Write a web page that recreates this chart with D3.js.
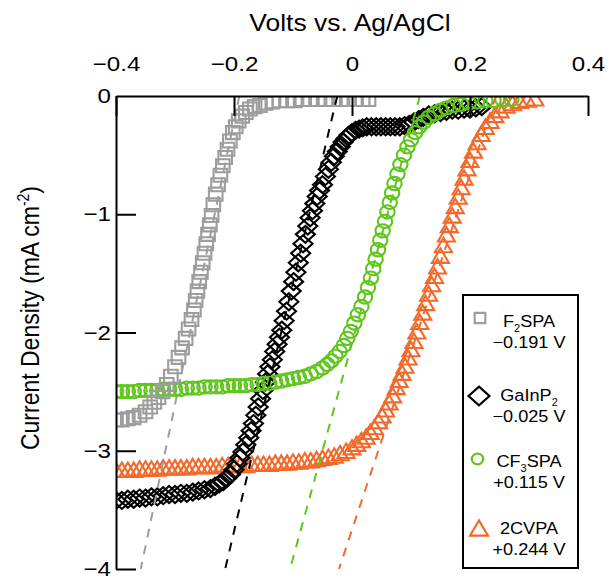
<!DOCTYPE html>
<html>
<head>
<meta charset="utf-8">
<script src="https://cdn.jsdelivr.net/npm/d3@7"></script>
<style>
  html, body { margin: 0; padding: 0; background: #fff; }
  svg { display: block; font-family: "Liberation Sans", Arial, Helvetica, sans-serif; }
</style>
</head>
<body>
<svg id="chart" width="616" height="582"></svg>
<script>
// ---- Current density (mA cm^-2) vs. potential (V vs. Ag/AgCl) ----

// F2SPA-modified electrode
const f2spaV = [-0.400,-0.390,-0.380,-0.370,-0.360,-0.350,-0.342,-0.335,-0.328,-0.321,-0.314,-0.307,-0.300,-0.294,-0.288,-0.282,
  -0.277,-0.272,-0.268,-0.265,-0.262,-0.259,-0.256,-0.253,-0.250,-0.247,-0.244,-0.241,-0.238,-0.235,-0.231,-0.227,-0.223,-0.219,
  -0.215,-0.211,-0.207,-0.202,-0.197,-0.192,-0.186,-0.180,-0.173,-0.165,-0.156,-0.146,-0.135,-0.123,-0.110,-0.097,-0.084,-0.071,
  -0.058,-0.045,-0.032,-0.019,-0.006,0.007,0.018,0.028];
const f2spaJ = [-2.74,-2.74,-2.73,-2.72,-2.70,-2.67,-2.63,-2.59,-2.55,-2.50,-2.44,-2.37,-2.29,-2.21,-2.13,-2.05,
  -1.97,-1.89,-1.81,-1.73,-1.65,-1.57,-1.49,-1.41,-1.33,-1.25,-1.17,-1.09,-1.01,-0.92,-0.83,-0.75,-0.67,-0.59,
  -0.52,-0.45,-0.38,-0.31,-0.26,-0.21,-0.17,-0.14,-0.11,-0.09,-0.08,-0.06,-0.05,-0.04,-0.04,-0.04,-0.03,-0.03,
  -0.03,-0.03,-0.03,-0.03,-0.03,-0.03,-0.03,-0.03];

// bare GaInP2
const gainpV = [-0.400,-0.390,-0.380,-0.370,-0.360,-0.350,-0.340,-0.330,-0.320,-0.310,-0.300,-0.290,-0.280,-0.270,-0.260,-0.250,
  -0.240,-0.232,-0.225,-0.218,-0.212,-0.206,-0.200,-0.195,-0.190,-0.185,-0.180,-0.175,-0.171,-0.167,-0.163,-0.159,-0.155,-0.151,
  -0.147,-0.143,-0.139,-0.135,-0.131,-0.127,-0.123,-0.119,-0.115,-0.111,-0.107,-0.103,-0.099,-0.095,-0.091,-0.087,-0.083,-0.079,
  -0.075,-0.071,-0.067,-0.063,-0.059,-0.055,-0.050,-0.045,-0.040,-0.035,-0.030,-0.025,-0.020,-0.015,-0.010,-0.005,0.000,0.006,
  0.012,0.018,0.025,0.033,0.041,0.049,0.057,0.065,0.073,0.081,0.089,0.097,0.105,0.113,0.121,0.130,0.140,0.150,0.160,0.170,
  0.180,0.190,0.200,0.210,0.220];
const gainpJ = [-3.42,-3.42,-3.41,-3.41,-3.40,-3.40,-3.39,-3.39,-3.38,-3.37,-3.37,-3.36,-3.36,-3.35,-3.34,-3.33,
  -3.32,-3.30,-3.28,-3.26,-3.23,-3.20,-3.16,-3.11,-3.06,-3.01,-2.95,-2.89,-2.83,-2.77,-2.70,-2.63,-2.56,-2.49,
  -2.42,-2.35,-2.29,-2.23,-2.16,-2.10,-2.04,-1.98,-1.90,-1.82,-1.74,-1.65,-1.57,-1.49,-1.41,-1.33,-1.25,-1.17,
  -1.10,-1.03,-0.97,-0.91,-0.85,-0.80,-0.75,-0.68,-0.62,-0.56,-0.51,-0.47,-0.43,-0.39,-0.36,-0.33,-0.31,-0.29,
  -0.28,-0.27,-0.26,-0.26,-0.26,-0.26,-0.26,-0.26,-0.26,-0.26,-0.25,-0.24,-0.22,-0.20,-0.18,-0.16,-0.15,-0.14,-0.13,-0.12,
  -0.12,-0.11,-0.11,-0.10,-0.09];

// CF3SPA-modified electrode
const cf3spaV = [-0.400,-0.390,-0.380,-0.370,-0.360,-0.350,-0.340,-0.330,-0.320,-0.310,-0.300,-0.290,-0.280,-0.270,-0.260,-0.250,
  -0.240,-0.230,-0.220,-0.210,-0.200,-0.190,-0.180,-0.170,-0.160,-0.150,-0.140,-0.130,-0.120,-0.110,-0.100,-0.090,-0.080,-0.070,
  -0.060,-0.050,-0.042,-0.035,-0.028,-0.021,-0.014,-0.008,-0.002,0.004,0.010,0.016,0.022,0.027,0.032,0.036,0.040,0.044,
  0.048,0.052,0.056,0.060,0.064,0.068,0.072,0.077,0.082,0.088,0.094,0.100,0.107,0.114,0.122,0.130,0.140,0.150,0.160,0.172,
  0.185,0.198,0.212,0.226,0.240,0.255,0.270];
const cf3spaJ = [-2.50,-2.50,-2.50,-2.50,-2.49,-2.49,-2.49,-2.49,-2.48,-2.48,-2.48,-2.48,-2.47,-2.47,-2.47,-2.46,
  -2.46,-2.46,-2.46,-2.45,-2.45,-2.45,-2.45,-2.44,-2.44,-2.43,-2.43,-2.42,-2.41,-2.40,-2.39,-2.38,-2.37,-2.35,
  -2.33,-2.30,-2.27,-2.24,-2.20,-2.16,-2.11,-2.05,-1.99,-1.92,-1.85,-1.78,-1.70,-1.62,-1.54,-1.46,-1.38,-1.30,
  -1.22,-1.14,-1.06,-0.98,-0.90,-0.82,-0.74,-0.66,-0.58,-0.50,-0.43,-0.37,-0.31,-0.26,-0.22,-0.18,-0.15,-0.12,-0.10,-0.08,
  -0.07,-0.06,-0.05,-0.04,-0.04,-0.03,-0.03];

// 2CVPA-modified electrode
const cvpaV = [-0.400,-0.390,-0.380,-0.370,-0.360,-0.350,-0.340,-0.330,-0.320,-0.310,-0.300,-0.290,-0.280,-0.270,-0.260,-0.250,
  -0.240,-0.230,-0.220,-0.210,-0.200,-0.190,-0.180,-0.170,-0.160,-0.150,-0.140,-0.130,-0.120,-0.110,-0.100,-0.090,-0.080,-0.070,
  -0.060,-0.050,-0.040,-0.030,-0.020,-0.010,0.000,0.008,0.016,0.024,0.031,0.038,0.045,0.051,0.057,0.063,0.069,0.075,
  0.080,0.085,0.090,0.095,0.100,0.105,0.110,0.115,0.120,0.125,0.130,0.135,0.140,0.145,0.150,0.155,0.160,0.165,0.170,0.175,
  0.180,0.185,0.190,0.195,0.200,0.206,0.212,0.219,0.226,0.234,0.242,0.251,0.261,0.272,0.284,0.297,0.310];
const cvpaJ = [-3.16,-3.16,-3.16,-3.16,-3.15,-3.15,-3.15,-3.15,-3.14,-3.14,-3.14,-3.14,-3.14,-3.13,-3.13,-3.13,
  -3.13,-3.13,-3.12,-3.12,-3.12,-3.12,-3.12,-3.11,-3.11,-3.11,-3.11,-3.10,-3.10,-3.10,-3.09,-3.09,-3.08,-3.08,
  -3.07,-3.06,-3.05,-3.04,-3.02,-3.00,-2.97,-2.94,-2.91,-2.88,-2.84,-2.80,-2.75,-2.70,-2.65,-2.59,-2.53,-2.46,
  -2.40,-2.34,-2.28,-2.21,-2.14,-2.07,-1.99,-1.91,-1.83,-1.75,-1.67,-1.59,-1.52,-1.44,-1.35,-1.26,-1.17,-1.09,-1.01,-0.93,
  -0.85,-0.77,-0.69,-0.61,-0.54,-0.46,-0.39,-0.32,-0.26,-0.21,-0.16,-0.12,-0.08,-0.06,-0.04,-0.03,-0.02];

// legend names, onset potentials (V) and where each tangent reaches -4 mA cm^-2
const seriesNames = ["F2SPA", "GaInP2", "CF3SPA", "2CVPA"];
const onsetV = [-0.191, -0.025, 0.115, 0.244];
const tangentFootV = [-0.358, -0.215, -0.105, -0.022];

// axis ticks
const xTicks = [-0.4, -0.2, 0, 0.2, 0.4];
const xTickLabels = ["\u22120.4", "\u22120.2", "0", "0.2", "0.4"];
const yTicks = [0, -1, -2, -3, -4];
const yTickLabels = ["0", "\u22121", "\u22122", "\u22123", "\u22124"];

// ---- layout ----
const plot = { left: 116, right: 588, top: 96, bottom: 569 };
const TEXT_SX = 1.15;          // horizontal stretch applied to all lettering
const colors = ["#9d9d9d", "#000000", "#5fc51c", "#f26a2b"];
const shapes = ["square", "diamond", "circle", "triangle"];
const voltages = [f2spaV, gainpV, cf3spaV, cvpaV];
const currents = [f2spaJ, gainpJ, cf3spaJ, cvpaJ];

const svg = d3.select("#chart");
const x = d3.scaleLinear().domain([-0.4, 0.4]).range([plot.left, plot.right]);
const y = d3.scaleLinear().domain([0, -4]).range([plot.top, plot.bottom]);

const series = seriesNames.map((name, i) => ({
  name, color: colors[i], shape: shapes[i], onset: onsetV[i], foot: tangentFootV[i],
  points: voltages[i].map((v, k) => ({ v, j: currents[i][k] }))
}));

// marker outline generators (centred on 0,0)
function markerPath(shape, s) {
  const k = s || 1;
  switch (shape) {
    case "square":   { const a = 6.8 * k, b = 6.5 * k; return `M${-a},${-b}H${a}V${b}H${-a}Z`; }
    case "diamond":  { const a = 9.5 * k, b = 8.5 * k; return `M0,${-b}L${a},0L0,${b}L${-a},0Z`; }
    case "circle":   { const a = 7.2 * k, b = 6.6 * k;
                       return `M${-a},0A${a},${b} 0 1,0 ${a},0A${a},${b} 0 1,0 ${-a},0Z`; }
    case "triangle": { const a = 8.5 * k, b = 7.2 * k; return `M0,${-b}L${a},${b}L${-a},${b}Z`; }
  }
}

// clip region for data
svg.append("defs").append("clipPath").attr("id", "plotClip")
  .append("rect").attr("x", plot.left).attr("y", plot.top)
  .attr("width", plot.right - plot.left).attr("height", plot.bottom - plot.top);

const dataG = svg.append("g").attr("clip-path", "url(#plotClip)");

// draw order: 2CVPA, GaInP2, CF3SPA, F2SPA
[3, 1, 2, 0].forEach(i => {
  const s = series[i];
  dataG.append("g")
    .selectAll("path").data(s.points).join("path")
    .attr("d", markerPath(s.shape))
    .attr("transform", d => `translate(${x(d.v)},${y(d.j)})`)
    .attr("fill", "none")
    .attr("stroke", s.color)
    .attr("stroke-width", 2.1);
});

// onset tangents
const line = d3.line().x(d => x(d.v)).y(d => y(d.j));
series.forEach(s => {
  dataG.append("path")
    .attr("d", line([{ v: s.onset, j: 0 }, { v: s.foot, j: -4 }]))
    .attr("fill", "none")
    .attr("stroke", s.color)
    .attr("stroke-width", 2)
    .attr("stroke-dasharray", "9,8");
});

// ---- axes ----
const fontTick = 21;
const topAxis = d3.axisTop(x)
  .tickValues(xTicks)
  .tickFormat((d, i) => xTickLabels[i])
  .tickSize(-20).tickSizeOuter(0).tickPadding(25);
const gTop = svg.append("g").attr("transform", `translate(0,${plot.top})`).call(topAxis);

const leftAxis = d3.axisLeft(y)
  .tickValues(yTicks)
  .tickFormat((d, i) => yTickLabels[i])
  .tickSize(-20).tickSizeOuter(0).tickPadding(5);
const gLeft = svg.append("g").attr("transform", `translate(${plot.left},0)`).call(leftAxis);

[gTop, gLeft].forEach(g => {
  g.select(".domain").attr("stroke", "#000").attr("stroke-width", 2);
  g.selectAll(".tick line").attr("stroke", "#000").attr("stroke-width", 2);
  g.selectAll(".tick text")
    .attr("fill", "#000")
    .style("font-family", "'Liberation Sans', Arial, sans-serif")
    .style("font-size", fontTick + "px");
});
gTop.selectAll(".tick text").attr("transform", `scale(${TEXT_SX},1)`);
gLeft.selectAll(".tick text").attr("x", -5 / TEXT_SX).attr("transform", `scale(${TEXT_SX},1)`);
gLeft.select(".tick:first-of-type line").remove();

// axis titles
svg.append("text")
  .attr("transform", `translate(350,31) scale(${TEXT_SX},1)`)
  .attr("text-anchor", "middle")
  .style("font-size", "23px")
  .text("Volts vs. Ag/AgCl");

const yLabel = svg.append("text")
  .attr("transform", `translate(39,318) scale(${TEXT_SX},1) rotate(-90)`)
  .attr("text-anchor", "middle")
  .style("font-size", "23px");
yLabel.append("tspan").text("Current Density (mA cm");
yLabel.append("tspan").attr("dy", -9).style("font-size", "14px").text("-2");
yLabel.append("tspan").attr("dy", 9).text(")");

// ---- legend ----
const legend = svg.append("g");
legend.append("rect")
  .attr("x", 463).attr("y", 295).attr("width", 115).attr("height", 273)
  .attr("fill", "#fff").attr("stroke", "#000").attr("stroke-width", 2);

const markerY = [318, 396, 459, 528];
const markerX = [480, 479, 477.5, 479];
const markerScale = [0.78, 1.1, 0.8, 1.05];
const nameBaseline = [327, 401, 467, 534];
const fmtOnset = d3.format("+.3f");

series.forEach((s, i) => {
  legend.append("path")
    .attr("d", markerPath(s.shape, markerScale[i]))
    .attr("transform", `translate(${markerX[i]},${markerY[i]})`)
    .attr("fill", "none").attr("stroke", s.color).attr("stroke-width", 2.2);

  const t = legend.append("text")
    .attr("transform", `translate(529,${nameBaseline[i]}) scale(${TEXT_SX - 0.05},1)`)
    .attr("text-anchor", "middle")
    .style("font-size", "16.5px");
  // a digit directly after a letter is a subscript (F2, P2, F3)
  const parts = s.name.split(/(?<=[A-Za-z])(\d)/);
  let lowered = false;
  parts.forEach((p, k) => {
    if (!p) return;
    const ts = t.append("tspan").text(p);
    if (k % 2 === 1) { ts.attr("dy", 5).style("font-size", "10px"); lowered = true; }
    else if (lowered) { ts.attr("dy", -5); lowered = false; }
  });

  legend.append("text")
    .attr("transform", `translate(529,${nameBaseline[i] + 21}) scale(${TEXT_SX - 0.05},1)`)
    .attr("text-anchor", "middle")
    .style("font-size", "16.5px")
    .text(fmtOnset(s.onset) + " V");
});
</script>
</body>
</html>
